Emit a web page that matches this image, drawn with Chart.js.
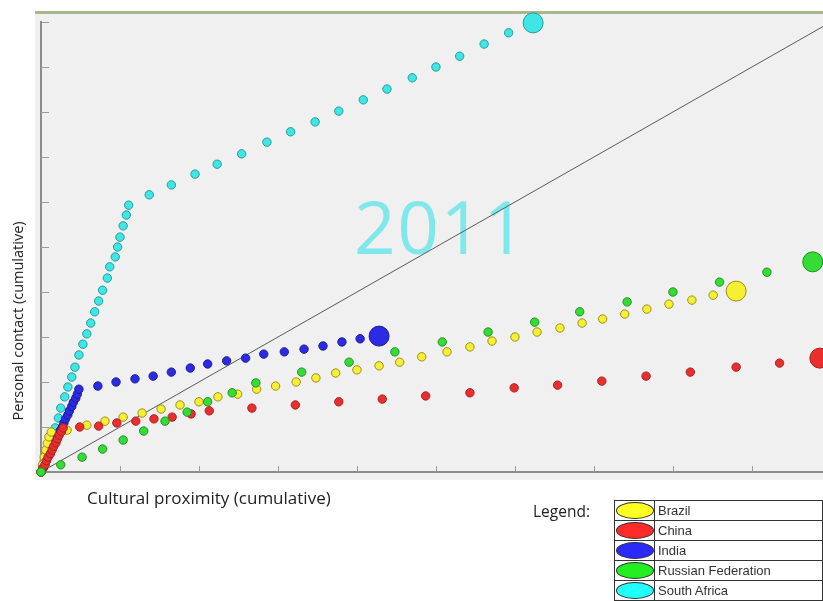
<!DOCTYPE html>
<html>
<head>
<meta charset="utf-8">
<script src="https://cdn.jsdelivr.net/npm/chart.js@4.4.1/dist/chart.umd.min.js"></script>
<style>
  html, body { margin: 0; padding: 0; background: #ffffff; }
  #wrap { position: relative; width: 823px; height: 601px; overflow: hidden; background: #fff; }
  #plotbg { position: absolute; left: 35px; top: 11px; width: 788px; height: 469px; background: #f0f0f0; border-top: 3px solid #a9b78b; box-sizing: border-box; }
  #year { position: absolute; left: 354px; top: 189px; font-family: "Open Sans", sans-serif; font-size: 73px; letter-spacing: 1.5px; line-height: 1; color: #80e8ea; white-space: nowrap; }
  #chart { position: absolute; left: 0; top: 0; }
  .title { position: absolute; font-family: "Open Sans", sans-serif; color: #222; white-space: nowrap; line-height: 20px; }
  #xtitle { left: 87px; top: 488px; font-size: 17px; }
  #ytitle { left: -132px; top: 311px; width: 300px; text-align: center; font-size: 14.5px; transform: rotate(-90deg); transform-origin: 150px 10px; }
  #legLabel { position: absolute; left: 533px; top: 500px; font-family: "Open Sans", sans-serif; font-size: 15.5px; color: #222; line-height: 22px; }
  #legend { position: absolute; left: 614px; top: 500px; border-collapse: collapse; width: 209px; }
  #legend td { border: 1px solid #333; height: 19px; padding: 0; font-family: "Liberation Sans", Arial, sans-serif; font-size: 13px; color: #333; }
  #legend td.sw { width: 39px; text-align: center; }
  #legend td.nm { padding-left: 3px; }
  .ell { display: inline-block; width: 36px; height: 15px; border-radius: 50%; border: 1px solid #333; vertical-align: middle; }
</style>
</head>
<body>
<div id="wrap">
  <div id="plotbg"></div>
  <div id="year">2011</div>
  <canvas id="chart" width="823" height="601"></canvas>
  <div id="xtitle" class="title">Cultural proximity (cumulative)</div>
  <div id="ytitle" class="title">Personal contact (cumulative)</div>
  <div id="legLabel">Legend:</div>
  <table id="legend"><tbody id="legBody"></tbody></table>
</div>
<script>
// ---- data ----
const categories = ["Brazil", "China", "India", "Russian Federation", "South Africa"];
const yearLabel = "2011";
const xTickValues = [1, 2, 3, 4, 5, 6, 7, 8, 9];
const yTickValues = [1, 2, 3, 4, 5, 6, 7, 8, 9, 10];

const brazilX = [0,0.02,0.04,0.06,0.08,0.10,0.13,0.33,0.58,0.81,1.04,1.28,1.52,1.76,2.00,2.24,2.49,2.73,2.97,3.23,3.48,3.73,4.00,4.28,4.54,4.82,5.14,5.43,5.71,6.00,6.28,6.57,6.85,7.11,7.39,7.67,7.95,8.24,8.51,8.80];
const brazilY = [0,0.16,0.33,0.49,0.64,0.78,0.89,0.93,1.04,1.13,1.22,1.31,1.40,1.49,1.56,1.67,1.73,1.84,1.91,2.00,2.09,2.20,2.27,2.36,2.44,2.56,2.67,2.78,2.91,3.00,3.11,3.20,3.31,3.40,3.51,3.62,3.73,3.82,3.93,4.02];

const chinaX = [0,0.02,0.05,0.07,0.09,0.12,0.14,0.16,0.19,0.21,0.23,0.26,0.28,0.49,0.73,0.96,1.20,1.43,1.66,1.90,2.13,2.67,3.22,3.77,4.32,4.87,5.43,5.99,6.54,7.10,7.66,8.22,8.80,9.35,9.86];
const chinaY = [0,0.08,0.16,0.25,0.33,0.41,0.49,0.57,0.65,0.74,0.82,0.90,0.98,1.00,1.02,1.09,1.13,1.18,1.22,1.29,1.36,1.42,1.49,1.56,1.62,1.69,1.76,1.87,1.93,2.02,2.13,2.22,2.33,2.42,2.53];

const indiaX = [0,0.03,0.05,0.07,0.10,0.12,0.15,0.17,0.19,0.22,0.24,0.27,0.29,0.31,0.34,0.36,0.39,0.41,0.44,0.46,0.48,0.72,0.95,1.19,1.42,1.65,1.89,2.11,2.35,2.59,2.82,3.08,3.33,3.57,3.81,4.04,4.28];
const indiaY = [0,0.09,0.18,0.27,0.37,0.46,0.55,0.64,0.73,0.82,0.91,1.00,1.09,1.18,1.27,1.36,1.46,1.55,1.64,1.73,1.84,1.91,2.00,2.07,2.13,2.22,2.31,2.40,2.47,2.53,2.62,2.67,2.73,2.80,2.89,2.96,3.02];

const russiaX = [0,0.25,0.52,0.78,1.04,1.30,1.57,1.85,2.11,2.42,2.72,3.30,3.90,4.48,5.08,5.66,6.25,6.82,7.42,8.00,8.59,9.19,9.77];
const russiaY = [0,0.16,0.33,0.51,0.71,0.91,1.13,1.33,1.56,1.76,1.98,2.22,2.44,2.67,2.89,3.11,3.33,3.56,3.78,4.00,4.22,4.44,4.67];

const southAfricaX = [0,0.04,0.09,0.13,0.18,0.22,0.25,0.30,0.34,0.39,0.43,0.48,0.53,0.58,0.63,0.68,0.73,0.78,0.84,0.87,0.94,0.97,1.00,1.04,1.08,1.11,1.37,1.65,1.95,2.23,2.54,2.86,3.16,3.47,3.77,4.08,4.38,4.70,5.00,5.30,5.61,5.92,6.23];
const southAfricaY = [0,0.24,0.47,0.73,0.98,1.20,1.42,1.67,1.89,2.11,2.33,2.60,2.84,3.07,3.31,3.56,3.80,4.04,4.31,4.56,4.78,5.00,5.22,5.47,5.71,5.93,6.16,6.38,6.62,6.84,7.07,7.33,7.56,7.78,8.02,8.27,8.51,8.76,9.00,9.24,9.51,9.76,9.98];

const diagonalX = [0, 10];
const diagonalY = [0, 10];

// ---- styles ----
const fills   = ["#f6f032", "#ea2e2e", "#2b2be6", "#36dc36", "#3ee6e6"];
const borders = ["#9a8c1e", "#a82020", "#1c1c8c", "#1f8f1f", "#259a9a"];
const legendFills = ["#ffff22", "#ff2a2a", "#2a2aff", "#22ee22", "#22ffff"];

document.getElementById("year").textContent = yearLabel;

const toPts = (xs, ys) => xs.map((x, i) => ({ x: x, y: ys[i] }));
const seriesX = [brazilX, chinaX, indiaX, russiaX, southAfricaX];
const seriesY = [brazilY, chinaY, indiaY, russiaY, southAfricaY];

// legend table
const legBody = document.getElementById("legBody");
categories.forEach((name, i) => {
  const tr = document.createElement("tr");
  const td1 = document.createElement("td"); td1.className = "sw";
  const e = document.createElement("span"); e.className = "ell"; e.style.background = legendFills[i];
  td1.appendChild(e);
  const td2 = document.createElement("td"); td2.className = "nm"; td2.textContent = name;
  tr.appendChild(td1); tr.appendChild(td2); legBody.appendChild(tr);
});

const radiusFn = ctx => (ctx.dataIndex === ctx.dataset.data.length - 1 ? 10 : 4.2);

// draw order: first dataset is drawn on top
const drawOrder = [3, 1, 0, 2, 4];
const datasets = drawOrder.map(i => ({
  label: categories[i],
  data: toPts(seriesX[i], seriesY[i]),
  backgroundColor: fills[i],
  borderColor: borders[i],
  borderWidth: 1,
  pointRadius: radiusFn,
  pointHoverRadius: radiusFn,
  showLine: false,
  clip: false
}));
datasets.push({
  type: "line",
  label: "diagonal",
  data: toPts(diagonalX, diagonalY),
  borderColor: "#5a5a5a",
  borderWidth: 1,
  pointRadius: 0,
  fill: false,
  showLine: true
});

const innerTicks = {
  id: "innerTicks",
  beforeDatasetsDraw(chart) {
    const { ctx, chartArea, scales } = chart;
    ctx.save();
    ctx.strokeStyle = "#9a9a9a";
    ctx.lineWidth = 1;
    xTickValues.forEach(v => {
      const px = Math.round(scales.x.getPixelForValue(v)) + 0.5;
      ctx.beginPath(); ctx.moveTo(px, chartArea.bottom); ctx.lineTo(px, chartArea.bottom - 6); ctx.stroke();
    });
    yTickValues.forEach(v => {
      const py = Math.round(scales.y.getPixelForValue(v)) + 0.5;
      ctx.beginPath(); ctx.moveTo(chartArea.left, py); ctx.lineTo(chartArea.left + 8, py); ctx.stroke();
    });
    ctx.restore();
  }
};

new Chart(document.getElementById("chart"), {
  type: "scatter",
  data: { datasets: datasets },
  options: {
    responsive: false,
    animation: false,
    events: [],
    layout: { autoPadding: false, padding: { left: 41, top: 22, right: 0, bottom: 129 } },
    plugins: { legend: { display: false }, tooltip: { enabled: false } },
    scales: {
      x: {
        type: "linear", min: 0, max: 9.9,
        afterFit: s => { s.height = 0; },
        ticks: { display: false, stepSize: 1 },
        grid: { display: false },
        border: { display: true, color: "#8c8c8c", width: 2 }
      },
      y: {
        type: "linear", min: 0, max: 10,
        afterFit: s => { s.width = 0; },
        ticks: { display: false, stepSize: 1 },
        grid: { display: false },
        border: { display: true, color: "#8c8c8c", width: 2 }
      }
    }
  },
  plugins: [innerTicks]
});
</script>
</body>
</html>
